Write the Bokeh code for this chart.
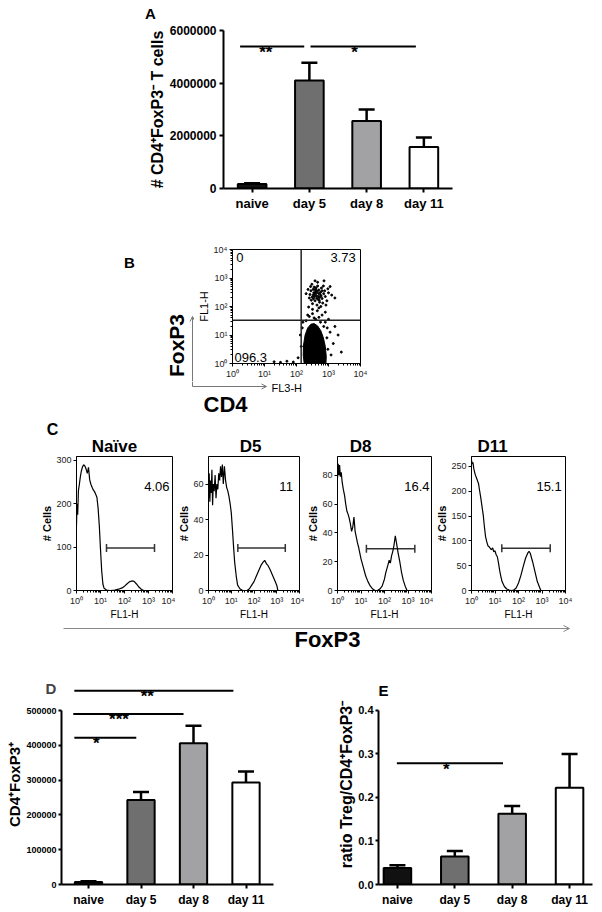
import math
from bokeh.plotting import figure
from bokeh.layouts import column, row
from bokeh.models import (Range1d, FixedTicker, Label, Whisker, TeeHead, ColumnDataSource,
                          Span, Arrow, OpenHead, BasicTickFormatter, NumeralTickFormatter)
from bokeh.embed import file_html
from bokeh.resources import INLINE

FONT = "Liberation Sans"

# ---------------- data ----------------
categories = ["naive", "day 5", "day 8", "day 11"]
bar_colors = ["#111111", "#6f6f6f", "#a2a2a5", "#ffffff"]

# Panel A: # CD4+FoxP3- T cells
A_values = [170000, 4100000, 2560000, 1580000]
A_errors = [25000, 680000, 440000, 360000]
A_sig_x0 = [-0.21, 1.02]
A_sig_x1 = [0.91, 2.86]
A_sig_y = [5390000, 5390000]
A_sig_stars = ["**", "*"]
A_star_x = [0.24, 1.79]

# Panel D: CD4+FoxP3+
D_values = [7000, 243000, 406000, 293000]
D_errors = [2000, 23000, 50000, 32000]
D_sig_x0 = [-0.27, -0.29, -0.27]
D_sig_x1 = [2.76, 1.81, 0.91]
D_sig_y = [557000, 490000, 422000]
D_sig_stars = ["**", "***", "*"]
D_star_x = [1.12, 0.58, 0.15]

# Panel E: ratio Treg / CD4+FoxP3-
E_values = [0.038, 0.064, 0.162, 0.222]
E_errors = [0.006, 0.013, 0.018, 0.077]
E_sig_x0 = [-0.01]
E_sig_x1 = [1.84]
E_sig_y = [0.278]
E_sig_stars = ["*"]
E_star_x = [0.85]

# Panel B: dot plot (log10 FL3-H, log10 FL1-H)
B_gate_x = 140
B_gate_y = 33
B_quadrant_text = ["0", "3.73", "096.3"]
B_upper = [(2.45, 2.55), (2.52, 2.40), (2.60, 2.62), (2.68, 2.35), (2.75, 2.50), (2.58, 2.20),
           (2.66, 2.72), (2.80, 2.28), (2.50, 2.10), (2.72, 2.15), (2.85, 2.45), (2.62, 2.48),
           (2.55, 2.68), (2.70, 2.58), (2.40, 2.30), (2.78, 2.65), (2.90, 2.35), (2.48, 2.78),
           (2.64, 2.05), (2.82, 2.12), (2.56, 2.35), (2.74, 2.42), (2.68, 2.25), (2.60, 2.52),
           (2.52, 2.60), (2.88, 2.55), (2.42, 2.42), (2.95, 2.20), (2.66, 2.85), (2.76, 2.00),
           (2.46, 2.22), (2.58, 2.90), (3.00, 2.48), (2.84, 2.72), (2.36, 2.60), (2.70, 1.95),
           (2.62, 2.38), (2.54, 2.48), (2.72, 2.32), (2.80, 2.55), (3.10, 2.40), (2.92, 2.05),
           (2.38, 1.98), (2.50, 1.90), (3.05, 2.70), (2.30, 2.45), (2.86, 2.90), (3.20, 2.30),
           (2.98, 2.62), (2.44, 2.70), (2.57, 2.44), (2.63, 2.29), (2.69, 2.46), (2.49, 2.33),
           (2.77, 2.37), (2.59, 2.58), (2.65, 2.54), (2.71, 2.22), (2.53, 2.27), (2.61, 2.66)]
B_blob = [(2.24, 0.0), (2.92, 0.0), (2.93, 0.25), (2.90, 0.6), (2.84, 0.9), (2.76, 1.15),
          (2.66, 1.32), (2.55, 1.40), (2.45, 1.38), (2.35, 1.25), (2.27, 1.0), (2.22, 0.65),
          (2.21, 0.3)]
B_sparse = [(2.95, 0.9), (3.05, 1.1), (2.98, 0.5), (3.15, 0.7), (2.15, 0.6), (2.12, 1.0),
            (2.18, 1.25), (2.85, 1.3), (3.3, 1.0), (2.9, 1.45), (2.3, 1.5), (2.05, 0.2),
            (1.9, 0.05), (1.7, 0.08), (1.5, 0.04), (1.3, 0.06), (3.4, 0.4), (2.6, 1.55),
            (2.5, 1.75), (2.65, 1.85), (2.8, 1.7), (2.4, 1.65), (2.9, 1.8), (2.55, 1.6),
            (3.0, 1.55), (2.35, 1.7), (2.7, 1.62), (2.96, 1.25), (3.08, 0.3), (2.2, 1.45),
            (2.75, 1.45), (3.2, 1.3)]

# Panel C: FoxP3 histograms (x in decades of FL1-H, y = # cells)
hist_titles = ["Naïve", "D5", "D8", "D11"]
hist_pct = ["4.06", "11", "16.4", "15.1"]
hist_ymax = [309, 75.5, 93, 270]
hist_yticks = [[0, 100, 200, 300], [0, 20, 40, 60], [0, 20, 40, 60, 80], [0, 50, 100, 150, 200, 250]]
gate_lo_dec = [1.25, 1.29, 1.23, 1.29]
gate_hi_dec = [3.25, 3.375, 3.29, 3.35]
gate_y = [98, 24, 29, 85]

N_dec = [0, 0.02, 0.05, 0.08, 0.12, 0.16, 0.2, 0.25, 0.3, 0.35, 0.4, 0.45, 0.5, 0.55, 0.6, 0.65,
         0.7, 0.75, 0.8, 0.85, 0.9, 0.95, 1.0, 1.05, 1.1, 1.15, 1.25, 1.4, 1.6, 1.75, 1.9, 2.0,
         2.1, 2.2, 2.3, 2.4, 2.5, 2.6, 2.7, 2.8]
N_cnt = [150, 200, 175, 230, 245, 262, 275, 285, 290, 287, 280, 270, 284, 255, 245, 238,
         232, 228, 222, 215, 190, 150, 95, 45, 15, 5, 1, 0, 1, 3, 6, 10,
         15, 20, 22, 21, 15, 8, 3, 0]
D5_dec = [0, 0.03, 0.06, 0.09, 0.12, 0.15, 0.18, 0.21, 0.25, 0.29, 0.33, 0.37, 0.41, 0.45,
          0.49, 0.53, 0.57, 0.61, 0.65, 0.7, 0.75, 0.8, 0.85, 0.9, 0.95, 1.0, 1.05, 1.1, 1.15,
          1.22, 1.28, 1.38, 1.5, 1.7, 1.8, 1.9, 2.0, 2.1, 2.2, 2.3, 2.4, 2.47, 2.55, 2.62, 2.7,
          2.8, 2.9, 3.0, 3.05]
D5_cnt = [52, 66, 50, 62, 55, 68, 48, 60, 56, 65, 52, 60, 57, 66,
          62, 70, 64, 71, 60, 70, 62, 58, 56, 53, 49, 44, 35, 25, 16,
          8, 3, 1, 0, 0, 1, 3, 5, 8, 11, 14, 16, 17, 15, 14, 12,
          9, 6, 3, 0]
D8_dec = [0, 0.03, 0.06, 0.09, 0.12, 0.16, 0.2, 0.25, 0.3, 0.35, 0.4, 0.45, 0.5, 0.55, 0.6,
          0.65, 0.7, 0.75, 0.8, 0.85, 0.9, 0.95, 1.0, 1.05, 1.1, 1.15, 1.2, 1.3, 1.4, 1.5, 1.6,
          1.7, 1.8, 1.9, 2.0, 2.05, 2.1, 2.15, 2.2, 2.25, 2.3, 2.35, 2.4, 2.46, 2.52, 2.58, 2.65,
          2.72, 2.8, 2.88, 2.96]
D8_cnt = [78, 88, 80, 87, 79, 82, 75, 70, 66, 60, 55, 53, 50, 46, 41,
          44, 51, 41, 37, 33, 30, 26, 22, 19, 16, 13, 10, 6, 3, 1, 0,
          0, 1, 3, 8, 12, 15, 18, 21, 19, 24, 27, 31, 38, 32, 26, 20,
          13, 7, 3, 0]
D11_dec = [0, 0.03, 0.06, 0.1, 0.15, 0.2, 0.25, 0.3, 0.35, 0.4, 0.45, 0.5, 0.55, 0.6, 0.65,
           0.7, 0.75, 0.8, 0.85, 0.9, 0.95, 1.0, 1.05, 1.1, 1.15, 1.2, 1.25, 1.3, 1.4, 1.5, 1.6,
           1.7, 1.8, 1.9, 2.0, 2.1, 2.2, 2.3, 2.4, 2.45, 2.5, 2.6, 2.7, 2.8, 2.9, 2.95]
D11_cnt = [262, 255, 258, 245, 235, 228, 222, 215, 200, 185, 168, 152, 128, 108, 98,
           90, 88, 85, 82, 86, 78, 80, 72, 68, 55, 40, 28, 18, 8, 3, 1,
           0, 1, 5, 15, 30, 48, 65, 76, 79, 75, 58, 38, 18, 6, 0]
hist_dec = [N_dec, D5_dec, D8_dec, D11_dec]
hist_cnt = [N_cnt, D5_cnt, D8_cnt, D11_cnt]

LOG_MAJOR = [1, 10, 100, 1000, 10000]
LOG_LABELS = {1: "10⁰", 10: "10¹", 100: "10²", 1000: "10³", 10000: "10⁴"}
LOG_MINOR = [m * 10 ** k for k in range(4) for m in range(2, 10)]


# ---------------- helpers ----------------
def lin(p, p0, p1, v0, v1):
    return v0 + (p - p0) * (v1 - v0) / (p1 - p0)


def lab(fig, x, y, text, size, bold=False, align="center", baseline="middle", angle=0.0,
        color="black", y_offset=0):
    fig.add_layout(Label(x=x, y=y, text=text, text_font=FONT, text_font_size=f"{size}px",
                         text_font_style="bold" if bold else "normal", text_align=align,
                         text_baseline=baseline, angle=angle, text_color=color,
                         y_offset=y_offset))


def base_fig(width, height, bl, br, bt, bb, **kw):
    p = figure(width=width, height=height, min_border_left=bl, min_border_right=br,
               min_border_top=bt, min_border_bottom=bb, output_backend="svg",
               toolbar_location=None, background_fill_color="white",
               border_fill_color="white", **kw)
    p.xgrid.visible = False
    p.ygrid.visible = False
    return p


def canvas(x0, x1, y0, y1):
    """A text/arrow layer whose frame is the whole box, in page pixel coordinates."""
    p = figure(width=x1 - x0, height=y1 - y0, x_range=Range1d(x0, x1), y_range=Range1d(y1, y0),
               min_border_left=0, min_border_right=0, min_border_top=0, min_border_bottom=0,
               output_backend="svg", toolbar_location=None, outline_line_color=None,
               x_axis_location=None, y_axis_location=None, background_fill_color="white",
               border_fill_color="white")
    p.grid.visible = False
    return p


def axis_text(ax, size, bold, color="black"):
    ax.major_label_text_font = FONT
    ax.major_label_text_font_style = "bold" if bold else "normal"
    ax.major_label_text_font_size = f"{size}px"
    ax.major_label_text_color = color
    ax.axis_label_text_font = FONT
    ax.axis_label_text_color = "black"


def bar_panel(width, height, bl, br, bt, bb, xr, yr, values, errors, bar_w,
              yticks, yfmt, ybound, ytick_px, cat_px, cap_px, ylabel=None, ylabel_px=16,
              cat_standoff=3):
    p = base_fig(width, height, bl, br, bt, bb, x_range=Range1d(*xr), y_range=Range1d(*yr),
                 outline_line_color=None)
    idx = list(range(len(categories)))
    p.vbar(x=idx, bottom=0, top=values, width=bar_w, fill_color=bar_colors,
           line_color="black", line_width=2)
    src = ColumnDataSource(dict(x=idx, lo=values, hi=[v + e for v, e in zip(values, errors)]))
    p.add_layout(Whisker(source=src, base="x", lower="lo", upper="hi", dimension="height",
                         line_color="black", line_width=2.5, lower_head=None,
                         upper_head=TeeHead(size=cap_px, line_color="black", line_width=2.5)))
    xa, ya = p.xaxis[0], p.yaxis[0]
    xa.ticker = FixedTicker(ticks=idx)
    xa.major_label_overrides = {i: c for i, c in enumerate(categories)}
    ya.ticker = FixedTicker(ticks=yticks)
    ya.formatter = yfmt
    ya.bounds = ybound
    for ax, fs in ((xa, cat_px), (ya, ytick_px)):
        ax.axis_line_color = "black"
        ax.axis_line_width = 2
        ax.major_tick_line_color = "black"
        ax.major_tick_line_width = 2
        ax.major_tick_in = 0
        ax.minor_tick_line_color = None
        axis_text(ax, fs, True)
    xa.major_tick_out = 4
    xa.major_label_standoff = cat_standoff
    ya.major_tick_out = 3
    ya.major_label_standoff = 2
    if ylabel:
        ya.axis_label = ylabel
        ya.axis_label_text_font_size = f"{ylabel_px}px"
        ya.axis_label_text_font_style = "bold"
        ya.axis_label_standoff = 0
    return p


def sig(p, x0, x1, y, stars, star_x):
    p.segment(x0=x0, y0=y, x1=x1, y1=y, line_color="black", line_width=2)
    for sx, yy, s in zip(star_x, y, stars):
        lab(p, sx, yy, s, 17, True, baseline="alphabetic", y_offset=-6)


def log_axis_style(ax, size=9):
    ax.ticker = FixedTicker(ticks=LOG_MAJOR, minor_ticks=LOG_MINOR)
    ax.major_label_overrides = LOG_LABELS
    ax.axis_line_color = "black"
    ax.axis_line_width = 1
    ax.major_tick_line_color = "black"
    ax.major_tick_in = 0
    ax.major_tick_out = 3
    ax.minor_tick_line_color = "black"
    ax.minor_tick_in = 0
    ax.minor_tick_out = 2
    axis_text(ax, size, False, "#222222")
    ax.major_label_standoff = 2


# ---------------- Panel A (page y 0..218) ----------------
aLeft = canvas(0, 166, 0, 218)
lab(aLeft, 150, 13, "A", 15, True)
lab(aLeft, 157, 109, "# CD4⁺FoxP3⁻ T cells", 16, True, angle=math.pi / 2)

fA = bar_panel(436, 218, 54, 150, 30, 30, (-0.5, 3.5), (0, 6e6), A_values, A_errors, 0.5,
               [0, 2e6, 4e6, 6e6], BasicTickFormatter(use_scientific=False), (0, 6e6), 12, 13, 16,
               cat_standoff=3)
fA.yaxis[0].major_tick_out = 4
fA.yaxis[0].major_label_standoff = 3
sig(fA, A_sig_x0, A_sig_x1, A_sig_y, A_sig_stars, A_star_x)
secA = row(column(aLeft), column(fA))

# ---------------- Panel B (page y 218..418) ----------------
bLeft = canvas(0, 194, 218, 381)
lab(bLeft, 129, 262, "B", 15, True)
lab(bLeft, 176, 345, "FoxP3", 21, True, angle=math.pi / 2)
bLeft.add_layout(Arrow(x_start=192, y_start=381, x_end=192, y_end=316,
                       line_color="#777777", line_width=1,
                       end=OpenHead(size=5, line_color="#777777", line_width=1)))

fB = base_fig(408, 163, 33, 242, 31, 16, x_axis_type="log", y_axis_type="log",
              x_range=Range1d(1, 1e4), y_range=Range1d(1, 1e4),
              outline_line_color="black", outline_line_width=1)
fB.patch([10 ** a for a, b in B_blob], [10 ** b for a, b in B_blob],
         fill_color="black", line_color="black", line_width=1)
fB.scatter([10 ** a for a, b in B_upper], [10 ** b for a, b in B_upper], size=2,
           marker="circle", color="black")
fB.scatter([10 ** a for a, b in B_sparse], [10 ** b for a, b in B_sparse], size=2,
           marker="circle", color="black")
fB.add_layout(Span(location=B_gate_x, dimension="height", line_color="#222222", line_width=1.5))
fB.add_layout(Span(location=B_gate_y, dimension="width", line_color="#222222", line_width=1.5))
log_axis_style(fB.xaxis[0])
log_axis_style(fB.yaxis[0])
fB.yaxis[0].axis_label = "FL1-H"
fB.yaxis[0].axis_label_text_font_size = "11px"
fB.yaxis[0].axis_label_text_font_style = "normal"
fB.yaxis[0].axis_label_standoff = 1
bx = lambda px: 10 ** lin(px, 227, 360, 0, 4)
by = lambda py: 10 ** lin(py, 365, 249, 0, 4)
lab(fB, bx(231), by(257), B_quadrant_text[0], 13, align="left")
lab(fB, bx(355), by(257), B_quadrant_text[1], 13, align="right")
lab(fB, bx(229), by(359), B_quadrant_text[2], 13, align="left")

bBottom = canvas(0, 602, 381, 418)
bBottom.segment(x0=[192], y0=[381], x1=[192], y1=[386], line_color="#777777", line_width=1)
bBottom.add_layout(Arrow(x_start=192, y_start=386, x_end=266, y_end=386,
                         line_color="#777777", line_width=1,
                         end=OpenHead(size=5, line_color="#777777", line_width=1)))
lab(bBottom, 271, 387, "FL3-H", 11, align="left")
lab(bBottom, 225, 404, "CD4", 22, True)
secB = column(row(column(bLeft), column(fB)), column(bBottom))

# ---------------- Panel C (page y 418..652) ----------------
cTop = canvas(0, 602, 418, 455)
lab(cTop, 52, 429, "C", 16, True)
for t, px in zip(hist_titles, [114, 250, 360, 492]):
    lab(cTop, px, 446, t, 17, True)

hist_geom = [  # fig width, border left, border right, frame left px, frame right px
    (175, 76, 3, 76, 172),
    (129, 28, 5, 203, 299),
    (129, 28, 2, 332, 431),
    (169, 33, 37, 466, 565),
]
pct_px = [169, 292, 429, 561]

hist_figs = []
for i in range(4):
    w, bl, br, f0, f1 = hist_geom[i]
    ymax = hist_ymax[i]
    p = base_fig(w, 167, bl, br, 1, 30, x_axis_type="log", x_range=Range1d(1, 1e4),
                 y_range=Range1d(0, ymax), outline_line_color="black", outline_line_width=1)
    p.line([10 ** d for d in hist_dec[i]], hist_cnt[i], line_color="black", line_width=1.2)
    gsrc = ColumnDataSource(dict(y=[gate_y[i]], lo=[10 ** gate_lo_dec[i]], hi=[10 ** gate_hi_dec[i]]))
    p.add_layout(Whisker(source=gsrc, base="y", lower="lo", upper="hi", dimension="width",
                         line_color="#333333", line_width=1.5,
                         lower_head=TeeHead(size=8, line_color="#333333", line_width=1.5),
                         upper_head=TeeHead(size=8, line_color="#333333", line_width=1.5)))
    xa = p.xaxis[0]
    log_axis_style(xa)
    xa.axis_label = "FL1-H"
    xa.axis_label_text_font_size = "10px"
    xa.axis_label_text_font_style = "normal"
    xa.axis_label_standoff = 0
    ya = p.yaxis[0]
    ya.ticker = FixedTicker(ticks=hist_yticks[i])
    ya.axis_line_color = "black"
    ya.major_tick_line_color = "black"
    ya.major_tick_in = 0
    ya.major_tick_out = 3
    ya.minor_tick_line_color = None
    axis_text(ya, 9, False, "#222222")
    ya.major_label_standoff = 2
    ya.axis_label = "# Cells"
    ya.axis_label_text_font_size = "11px"
    ya.axis_label_text_font_style = "bold"
    ya.axis_label_standoff = 0
    hx = 10 ** lin(pct_px[i], f0, f1, 0, 4)
    hy = lin(486, 592, 456, 0, ymax)
    lab(p, hx, hy, hist_pct[i], 13, align="right")
    hist_figs.append(p)

fS = canvas(0, 602, 622, 652)
fS.add_layout(Arrow(x_start=63, y_start=628, x_end=569, y_end=628, line_color="#888888",
                    line_width=1, end=OpenHead(size=6, line_color="#888888", line_width=1)))
lab(fS, 327, 639, "FoxP3", 22, True)

# ---------------- Panels D and E (page y 652..910) ----------------
D_xr = (lin(61, 88, 140.5, 0, 1), lin(273, 88, 140.5, 0, 1))
fD = bar_panel(330, 258, 61, 57, 32, 26, D_xr, (0, lin(684, 884, 710, 0, 5e5)),
               D_values, D_errors, 0.52, [0, 1e5, 2e5, 3e5, 4e5, 5e5],
               BasicTickFormatter(use_scientific=False), (0, 5e5), 9, 12, 16,
               ylabel="CD4⁺FoxP3⁺", ylabel_px=15, cat_standoff=4)
sig(fD, D_sig_x0, D_sig_x1, D_sig_y, D_sig_stars, D_star_x)
fD.title.text = "D"
fD.title.align = "left"
fD.title.offset = -16
fD.title.standoff = -25
fD.title.text_font = FONT
fD.title.text_font_size = "15px"
fD.title.text_font_style = "bold"

fE = bar_panel(272, 258, 48, 10, 32, 26, (-0.33, 3.40), (0, lin(684, 884, 709.5, 0, 0.4)),
               E_values, E_errors, 0.48, [0, 0.1, 0.2, 0.3, 0.4],
               NumeralTickFormatter(format="0.0"), (0, 0.4), 11, 12, 16,
               ylabel="ratio Treg/CD4⁺FoxP3⁻", ylabel_px=16, cat_standoff=4)
sig(fE, E_sig_x0, E_sig_x1, E_sig_y, E_sig_stars, E_star_x)
lab(fE, lin(383, 378, 592, -0.33, 3.40), lin(690, 884, 709.5, 0, 0.4), "E", 15, True)

layout = column(secA, secB, column(cTop), row(*hist_figs), column(fS), row(fD, fE))
open("out.html", "w").write(file_html(layout, INLINE))
